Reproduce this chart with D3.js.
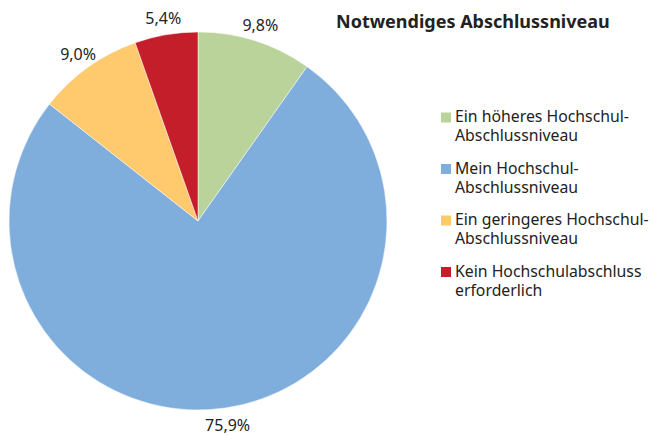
<!DOCTYPE html>
<html>
<head>
<meta charset="utf-8">
<script src="https://cdn.jsdelivr.net/npm/d3@7"></script>
<style>
  body { margin: 0; background: #fff; }
  svg { display: block; font-family: "Noto Sans", sans-serif; }
</style>
</head>
<body>
<svg id="chart"></svg>
<script>
// values
var categories = ["Ein höheres Hochschul-Abschlussniveau", "Mein Hochschul-Abschlussniveau",
                  "Ein geringeres Hochschul-Abschlussniveau", "Kein Hochschulabschluss erforderlich"];
var legendLines = [["Ein höheres Hochschul-", "Abschlussniveau"],
                   ["Mein Hochschul-", "Abschlussniveau"],
                   ["Ein geringeres Hochschul-", "Abschlussniveau"],
                   ["Kein Hochschulabschluss", "erforderlich"]];
var values = [9.8, 75.9, 9.0, 5.4];
var valueLabels = ["9,8%", "75,9%", "9,0%", "5,4%"];
var colors = ["#b9d39a", "#7faedd", "#ffc96e", "#c41e2a"];

var screen = {width: 651, height: 435};
var center = {x: 198, y: 221};
var radius = 189;

var svg = d3.select("#chart")
    .attr("width", screen.width)
    .attr("height", screen.height);

var entries = values.map(function(v, i) {
    return {name: categories[i], value: v, label: valueLabels[i], color: colors[i]};
});

var pie = d3.pie()
    .sort(null)
    .value(function(d) { return d.value; });

var arc = d3.arc().innerRadius(0).outerRadius(radius);
var labelArc = d3.arc().innerRadius(206).outerRadius(206);

var g = svg.append("g")
    .attr("transform", "translate(" + center.x + "," + center.y + ")");

var slices = pie(entries);

g.selectAll("path")
    .data(slices)
    .enter()
    .append("path")
    .attr("d", arc)
    .attr("fill", function(d) { return d.data.color; })
    .attr("stroke", "#fff")
    .attr("stroke-width", 0.5);

g.selectAll("text.val")
    .data(slices)
    .enter()
    .append("text")
    .classed("val", true)
    .attr("x", function(d) { return labelArc.centroid(d)[0]; })
    .attr("y", function(d) { return labelArc.centroid(d)[1]; })
    .attr("text-anchor", "middle")
    .attr("dominant-baseline", "central")
    .attr("font-size", 16)
    .attr("fill", "#222")
    .text(function(d) { return d.data.label; });

// title
svg.append("text")
    .attr("x", 336)
    .attr("y", 28)
    .attr("font-size", 18)
    .attr("font-weight", "bold")
    .attr("fill", "#222")
    .text("Notwendiges Abschlussniveau");

// legend
var legend = svg.append("g")
    .attr("transform", "translate(441,122)");

var items = legend.selectAll("g")
    .data(entries)
    .enter()
    .append("g")
    .attr("transform", function(d, i) { return "translate(0," + (i * 51.5) + ")"; });

items.append("rect")
    .attr("x", 0)
    .attr("y", -9.5)
    .attr("width", 10)
    .attr("height", 10)
    .attr("fill", function(d) { return d.color; });

items.each(function(d, i) {
    var t = d3.select(this).append("text")
        .attr("x", 14)
        .attr("y", 0)
        .attr("font-size", 15.8)
        .attr("fill", "#222");
    legendLines[i].forEach(function(line, j) {
        t.append("tspan")
            .attr("x", 14)
            .attr("dy", j == 0 ? 0 : 19)
            .text(line);
    });
});
</script>
</body>
</html>
